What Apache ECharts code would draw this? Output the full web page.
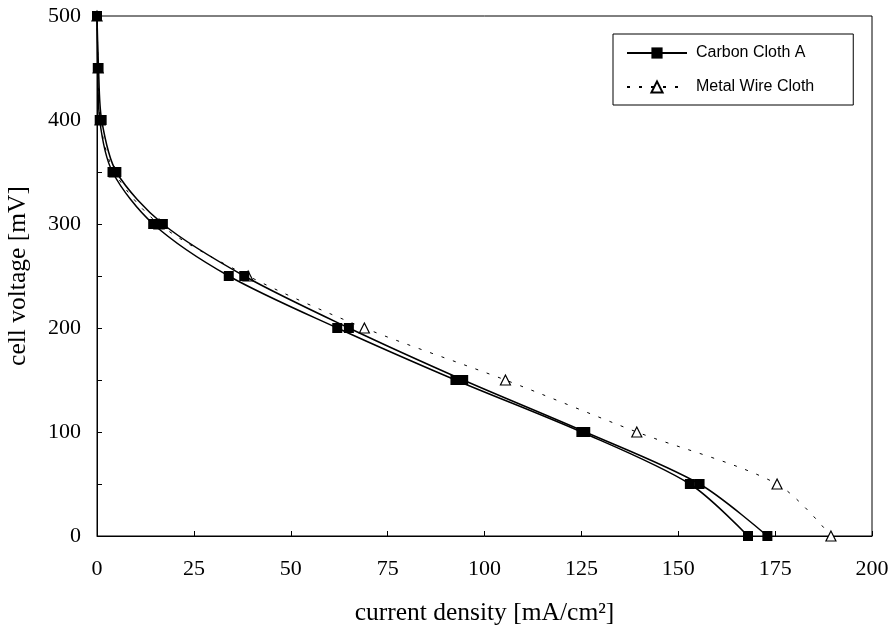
<!DOCTYPE html>
<html>
<head>
<meta charset="utf-8">
<script src="https://cdn.jsdelivr.net/npm/echarts@6/dist/echarts.min.js"></script>
<style>
  html, body { margin: 0; padding: 0; background: #fff; }
  #chart { width: 891px; height: 630px; }
</style>
</head>
<body>
<div id="chart"></div>
<script>
// cell voltage levels [mV]
const voltage = [500, 450, 400, 350, 300, 250, 200, 150, 100, 50, 0];
// current density [mA/cm2], two sweeps of Carbon Cloth A
const carbonSweep1 = [0, 0.4, 1.2, 5, 17, 38, 65, 94.5, 126, 155.5, 173];
const carbonSweep2 = [0, 0.2, 0.7, 4, 14.5, 34, 62, 92.5, 125, 153, 168];
const metalWire = [0, 0.3, 0.8, 4.5, 16, 39, 69, 105.4, 139.3, 175.5, 189.4];

const pairs = (xs) => xs.map((x, i) => [x, voltage[i]]);

const chart = echarts.init(document.getElementById("chart"));

const serif = "Liberation Serif";
const sans = "Liberation Sans";

const carbonStyle = {
  type: "line",
  name: "Carbon Cloth A",
  smooth: 0.3,
  symbol: "rect",
  symbolSize: 10,
  lineStyle: { color: "#000", width: 1.5 },
  itemStyle: { color: "#000" },
  z: 3,
};

chart.setOption({
  animation: false,
  backgroundColor: "#fff",
  grid: {
    left: 97,
    right: 19,
    top: 16,
    bottom: 94,
    outerBoundsMode: "none",
    show: true,
    borderColor: "#000",
    borderWidth: 1,
  },
  legend: {
    orient: "vertical",
    left: 613,
    top: 34,
    padding: [11, 39, 10, 13],
    itemGap: 18,
    itemWidth: 60,
    itemHeight: 14,
    borderColor: "#000",
    borderWidth: 1,
    data: ["Carbon Cloth A", "Metal Wire Cloth"],
    textStyle: { fontFamily: sans, fontSize: 16, color: "#000", padding: [0, 0, 0, 4] },
  },
  xAxis: {
    type: "value",
    min: 0,
    max: 200,
    interval: 25,
    name: "current density [mA/cm²]",
    nameLocation: "middle",
    nameGap: 64,
    nameTextStyle: { fontFamily: serif, fontSize: 25.5, color: "#000" },
    axisLine: { lineStyle: { color: "#000", width: 1 } },
    axisTick: { inside: true, length: 5, lineStyle: { color: "#000" } },
    axisLabel: { fontFamily: serif, fontSize: 22, color: "#000", margin: 22 },
    splitLine: { show: false },
  },
  yAxis: {
    type: "value",
    min: 0,
    max: 500,
    interval: 50,
    name: "cell voltage [mV]",
    nameLocation: "middle",
    nameGap: 66,
    nameTextStyle: { fontFamily: serif, fontSize: 25.5, color: "#000" },
    axisLine: { show: true, lineStyle: { color: "#000", width: 1 } },
    axisTick: { show: true, inside: true, length: 5, lineStyle: { color: "#000" } },
    axisLabel: {
      fontFamily: serif,
      fontSize: 22,
      color: "#000",
      margin: 16,
      formatter: (v) => (v % 100 === 0 ? String(v) : ""),
    },
    splitLine: { show: false },
  },
  series: [
    Object.assign({}, carbonStyle, { data: pairs(carbonSweep1) }),
    Object.assign({}, carbonStyle, { data: pairs(carbonSweep2) }),
    {
      type: "line",
      name: "Metal Wire Cloth",
      smooth: 0.3,
      symbol: "triangle",
      symbolSize: 10,
      data: pairs(metalWire),
      lineStyle: { color: "#000", width: 1, type: [3, 9] },
      itemStyle: { color: "#fff", borderColor: "#000", borderWidth: 1.2 },
      z: 2,
    },
  ],
});
</script>
</body>
</html>
